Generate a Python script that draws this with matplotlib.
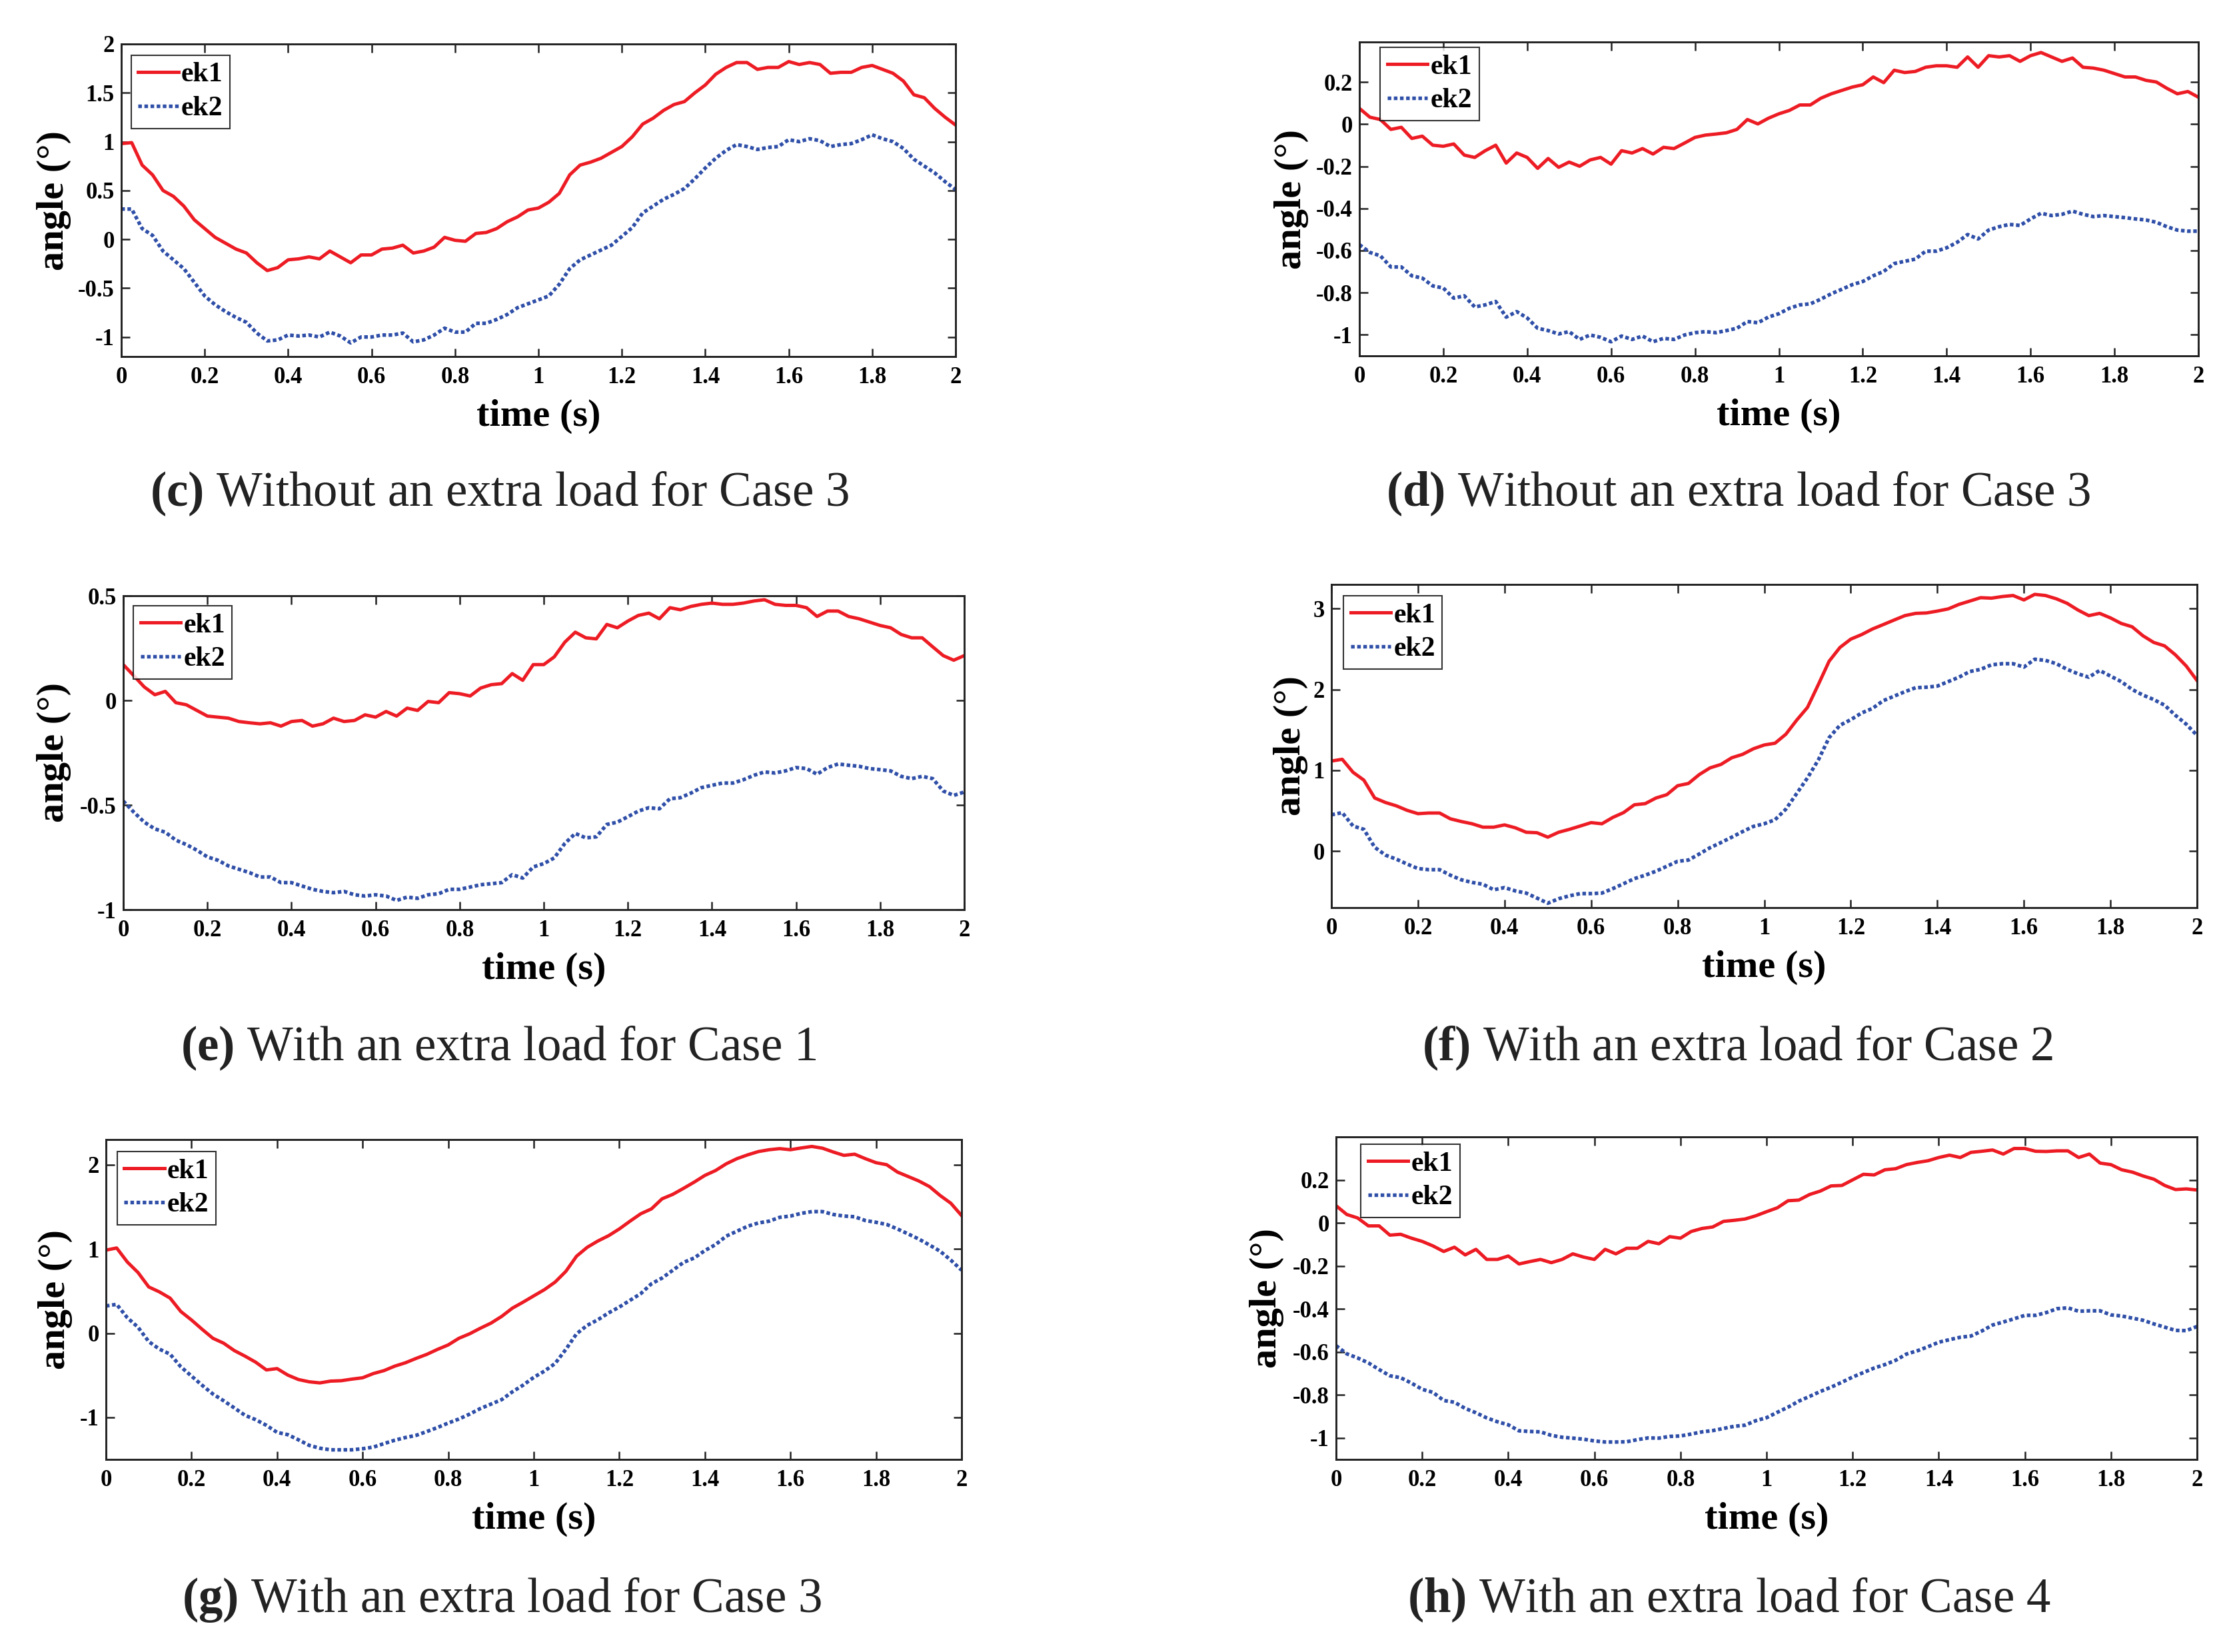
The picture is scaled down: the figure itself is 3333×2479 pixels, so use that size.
import numpy as np
import matplotlib
matplotlib.use('Agg')
import matplotlib.pyplot as plt

plt.rcParams['font.family'] = ['Liberation Serif', 'DejaVu Serif']
plt.rcParams['axes.unicode_minus'] = False
plt.rcParams['mathtext.fontset'] = 'custom'
plt.rcParams['mathtext.rm'] = 'Liberation Serif'
plt.rcParams['mathtext.bf'] = 'Liberation Serif:bold'

# ---------------- data ----------------
t = np.linspace(0, 2, 81)   # sample times, 0.025 s step

c_ek1 = [0.98, 0.99, 0.76, 0.66, 0.50, 0.44, 0.34, 0.20, 0.11, 0.02,
         -0.04, -0.10, -0.14, -0.24, -0.32, -0.29, -0.21, -0.20, -0.18, -0.20,
         -0.12, -0.18, -0.24, -0.16, -0.16, -0.10, -0.09, -0.06, -0.14, -0.12,
         -0.08, 0.02, -0.01, -0.02, 0.06, 0.07, 0.11, 0.18, 0.23, 0.30,
         0.32, 0.38, 0.47, 0.66, 0.76, 0.79, 0.83, 0.89, 0.95, 1.05,
         1.18, 1.24, 1.32, 1.38, 1.41, 1.50, 1.58, 1.69, 1.76, 1.81,
         1.81, 1.74, 1.76, 1.76, 1.82, 1.79, 1.81, 1.79, 1.70, 1.71,
         1.71, 1.76, 1.78, 1.74, 1.70, 1.62, 1.48, 1.45, 1.34, 1.25,
         1.17]
c_ek2 = [0.31, 0.31, 0.11, 0.04, -0.12, -0.21, -0.30, -0.44, -0.58, -0.67,
         -0.74, -0.80, -0.85, -0.96, -1.04, -1.03, -0.98, -0.99, -0.98, -1.00,
         -0.95, -0.99, -1.06, -1.00, -1.00, -0.98, -0.98, -0.96, -1.05, -1.03,
         -0.98, -0.91, -0.95, -0.95, -0.86, -0.86, -0.82, -0.77, -0.70, -0.66,
         -0.62, -0.58, -0.46, -0.30, -0.21, -0.16, -0.11, -0.06, 0.03, 0.12,
         0.27, 0.34, 0.41, 0.46, 0.52, 0.62, 0.73, 0.83, 0.91, 0.97,
         0.95, 0.92, 0.94, 0.95, 1.02, 1.00, 1.03, 1.01, 0.95, 0.97,
         0.98, 1.02, 1.07, 1.03, 1.00, 0.93, 0.82, 0.75, 0.68, 0.59,
         0.51]

d_ek1 = [0.075, 0.033, 0.022, -0.025, -0.015, -0.068, -0.057, -0.10, -0.105, -0.094,
         -0.147, -0.158, -0.126, -0.10, -0.185, -0.137, -0.158, -0.21, -0.163, -0.205,
         -0.18, -0.20, -0.17, -0.158, -0.19, -0.126, -0.137, -0.116, -0.142, -0.11,
         -0.116, -0.09, -0.063, -0.052, -0.047, -0.041, -0.025, 0.022, 0.001, 0.028,
         0.049, 0.065, 0.091, 0.091, 0.123, 0.144, 0.16, 0.176, 0.187, 0.224,
         0.197, 0.256, 0.245, 0.25, 0.27, 0.277, 0.277, 0.27, 0.319, 0.27,
         0.325, 0.319, 0.325, 0.298, 0.325, 0.34, 0.319, 0.298, 0.314, 0.27,
         0.266, 0.256, 0.24, 0.224, 0.224, 0.208, 0.20, 0.17, 0.144, 0.155,
         0.128]
d_ek2 = [-0.572, -0.609, -0.625, -0.678, -0.678, -0.72, -0.731, -0.768, -0.778, -0.826,
         -0.815, -0.868, -0.858, -0.842, -0.916, -0.89, -0.92, -0.969, -0.98, -0.996,
         -0.985, -1.022, -1.001, -1.012, -1.033, -1.006, -1.022, -1.006, -1.033, -1.017,
         -1.022, -1.001, -0.99, -0.985, -0.99, -0.98, -0.969, -0.937, -0.943, -0.916,
         -0.90, -0.874, -0.858, -0.853, -0.831, -0.805, -0.784, -0.762, -0.747, -0.72,
         -0.699, -0.662, -0.651, -0.641, -0.603, -0.603, -0.587, -0.561, -0.524, -0.545,
         -0.503, -0.487, -0.476, -0.481, -0.45, -0.423, -0.434, -0.428, -0.413, -0.428,
         -0.439, -0.434, -0.439, -0.444, -0.45, -0.455, -0.466, -0.487, -0.503, -0.508,
         -0.508]

e_ek1 = [0.171, 0.118, 0.064, 0.027, 0.043, -0.011, -0.021, -0.048, -0.075, -0.08,
         -0.085, -0.101, -0.107, -0.112, -0.107, -0.123, -0.101, -0.096, -0.123, -0.112,
         -0.085, -0.101, -0.096, -0.069, -0.08, -0.053, -0.075, -0.037, -0.048, -0.005,
         -0.011, 0.037, 0.032, 0.021, 0.059, 0.075, 0.08, 0.128, 0.096, 0.171,
         0.171, 0.208, 0.278, 0.326, 0.299, 0.294, 0.363, 0.347, 0.379, 0.406,
         0.417, 0.39, 0.443, 0.433, 0.449, 0.459, 0.465, 0.459, 0.459, 0.465,
         0.475, 0.481, 0.459, 0.454, 0.454, 0.443, 0.401, 0.427, 0.427, 0.401,
         0.39, 0.374, 0.358, 0.347, 0.315, 0.299, 0.299, 0.256, 0.214, 0.192,
         0.214]
e_ek2 = [-0.481, -0.534, -0.582, -0.614, -0.63, -0.668, -0.689, -0.716, -0.748, -0.764,
         -0.791, -0.807, -0.823, -0.844, -0.844, -0.871, -0.871, -0.887, -0.903, -0.913,
         -0.919, -0.913, -0.929, -0.935, -0.929, -0.935, -0.956, -0.94, -0.946, -0.929,
         -0.924, -0.903, -0.903, -0.892, -0.881, -0.876, -0.871, -0.833, -0.849, -0.796,
         -0.78, -0.753, -0.684, -0.636, -0.657, -0.652, -0.593, -0.582, -0.556, -0.529,
         -0.513, -0.518, -0.47, -0.465, -0.443, -0.417, -0.406, -0.395, -0.395, -0.379,
         -0.358, -0.342, -0.347, -0.337, -0.321, -0.326, -0.353, -0.321, -0.304, -0.31,
         -0.315, -0.326, -0.331, -0.337, -0.363, -0.374, -0.363, -0.374, -0.433, -0.454,
         -0.438]

f_ek1 = [1.114, 1.136, 0.975, 0.878, 0.657, 0.601, 0.56, 0.504, 0.463, 0.471,
         0.471, 0.399, 0.366, 0.338, 0.296, 0.296, 0.324, 0.288, 0.233, 0.227,
         0.172, 0.233, 0.269, 0.31, 0.352, 0.338, 0.416, 0.476, 0.573, 0.587,
         0.657, 0.698, 0.809, 0.837, 0.947, 1.03, 1.072, 1.155, 1.197, 1.266,
         1.313, 1.335, 1.446, 1.62, 1.778, 2.06, 2.35, 2.52, 2.623, 2.679,
         2.748, 2.803, 2.859, 2.914, 2.942, 2.947, 2.97, 2.997, 3.053, 3.094,
         3.136, 3.13, 3.15, 3.163, 3.108, 3.177, 3.163, 3.122, 3.066, 2.983,
         2.914, 2.942, 2.886, 2.817, 2.776, 2.665, 2.582, 2.54, 2.429, 2.291,
         2.111]
f_ek2 = [0.449, 0.476, 0.31, 0.269, 0.047, -0.05, -0.10, -0.161, -0.216, -0.23,
         -0.23, -0.299, -0.355, -0.388, -0.41, -0.479, -0.452, -0.493, -0.52, -0.582,
         -0.645, -0.59, -0.554, -0.526, -0.526, -0.52, -0.465, -0.404, -0.341, -0.299,
         -0.249, -0.188, -0.127, -0.111, -0.036, 0.042, 0.105, 0.172, 0.241, 0.305,
         0.338, 0.388, 0.518, 0.712, 0.906, 1.127, 1.404, 1.557, 1.626, 1.709,
         1.765, 1.861, 1.917, 1.972, 2.022, 2.028, 2.042, 2.097, 2.152, 2.222,
         2.249, 2.305, 2.319, 2.319, 2.277, 2.374, 2.36, 2.319, 2.249, 2.194,
         2.152, 2.235, 2.166, 2.097, 2.0, 1.931, 1.875, 1.806, 1.681, 1.571,
         1.432]

g_ek1 = [0.986, 1.012, 0.845, 0.72, 0.549, 0.49, 0.416, 0.257, 0.156, 0.045,
         -0.061, -0.119, -0.207, -0.273, -0.345, -0.437, -0.421, -0.498, -0.551, -0.578,
         -0.591, -0.57, -0.565, -0.546, -0.53, -0.48, -0.445, -0.392, -0.352, -0.30,
         -0.252, -0.193, -0.14, -0.061, -0.008, 0.058, 0.119, 0.199, 0.297, 0.368,
         0.443, 0.517, 0.607, 0.734, 0.914, 1.02, 1.095, 1.158, 1.238, 1.33,
         1.418, 1.476, 1.596, 1.649, 1.72, 1.794, 1.874, 1.932, 2.012, 2.073,
         2.118, 2.157, 2.179, 2.192, 2.179, 2.2, 2.218, 2.197, 2.152, 2.112,
         2.126, 2.073, 2.025, 2.001, 1.914, 1.861, 1.808, 1.741, 1.635, 1.543,
         1.397]
g_ek2 = [0.323, 0.342, 0.183, 0.07, -0.10, -0.19, -0.25, -0.40, -0.51, -0.62,
         -0.723, -0.803, -0.888, -0.976, -1.028, -1.095, -1.179, -1.206, -1.267, -1.333,
         -1.367, -1.386, -1.386, -1.386, -1.373, -1.354, -1.312, -1.272, -1.24, -1.214,
         -1.169, -1.121, -1.068, -1.02, -0.962, -0.896, -0.843, -0.79, -0.697, -0.618,
         -0.525, -0.451, -0.36, -0.193, -0.008, 0.093, 0.159, 0.241, 0.31, 0.39,
         0.469, 0.586, 0.655, 0.747, 0.84, 0.893, 0.981, 1.052, 1.153, 1.211,
         1.27, 1.309, 1.33, 1.376, 1.391, 1.423, 1.444, 1.444, 1.41, 1.391,
         1.383, 1.338, 1.317, 1.291, 1.238, 1.179, 1.118, 1.047, 0.973, 0.867,
         0.748]

h_ek1 = [0.08, 0.039, 0.023, -0.014, -0.014, -0.057, -0.053, -0.071, -0.086, -0.107,
         -0.133, -0.113, -0.149, -0.123, -0.17, -0.17, -0.154, -0.191, -0.18, -0.17,
         -0.185, -0.17, -0.144, -0.159, -0.17, -0.123, -0.144, -0.118, -0.118, -0.086,
         -0.097, -0.064, -0.071, -0.04, -0.026, -0.019, 0.007, 0.012, 0.018, 0.033,
         0.052, 0.07, 0.103, 0.106, 0.132, 0.148, 0.172, 0.174, 0.2, 0.226,
         0.223, 0.247, 0.252, 0.271, 0.281, 0.289, 0.304, 0.315, 0.304, 0.328,
         0.333, 0.339, 0.32, 0.346, 0.346, 0.333, 0.332, 0.335, 0.335, 0.304,
         0.32, 0.278, 0.271, 0.247, 0.236, 0.218, 0.203, 0.174, 0.155, 0.158,
         0.153]
h_ek2 = [-0.571, -0.609, -0.628, -0.651, -0.682, -0.711, -0.72, -0.745, -0.774, -0.788,
         -0.826, -0.834, -0.863, -0.883, -0.907, -0.925, -0.939, -0.967, -0.97, -0.972,
         -0.988, -0.997, -1.001, -1.006, -1.014, -1.019, -1.019, -1.018, -1.008, -1.0,
         -1.001, -0.993, -0.991, -0.982, -0.972, -0.966, -0.956, -0.946, -0.941, -0.92,
         -0.906, -0.881, -0.857, -0.829, -0.807, -0.784, -0.764, -0.741, -0.717, -0.696,
         -0.675, -0.659, -0.639, -0.61, -0.595, -0.576, -0.555, -0.543, -0.532, -0.526,
         -0.503, -0.475, -0.461, -0.446, -0.43, -0.43, -0.417, -0.399, -0.395, -0.411,
         -0.409, -0.409, -0.428, -0.433, -0.443, -0.453, -0.47, -0.485, -0.5, -0.501,
         -0.482]

xtick_vals = [0, 0.2, 0.4, 0.6, 0.8, 1.0, 1.2, 1.4, 1.6, 1.8, 2.0]
xtick_labels = ['0', '0.2', '0.4', '0.6', '0.8', '1', '1.2', '1.4', '1.6', '1.8', '2']

c_yticks = [-1, -0.5, 0, 0.5, 1, 1.5, 2]
c_ylabels = ['-1', '-0.5', '0', '0.5', '1', '1.5', '2']
d_yticks = [-1, -0.8, -0.6, -0.4, -0.2, 0, 0.2]
d_ylabels = ['-1', '-0.8', '-0.6', '-0.4', '-0.2', '0', '0.2']
e_yticks = [-1, -0.5, 0, 0.5]
e_ylabels = ['-1', '-0.5', '0', '0.5']
f_yticks = [0, 1, 2, 3]
f_ylabels = ['0', '1', '2', '3']
g_yticks = [-1, 0, 1, 2]
g_ylabels = ['-1', '0', '1', '2']
h_yticks = d_yticks
h_ylabels = d_ylabels

captions = [
    r'$\mathbf{(c)}$ Without an extra load for Case 3',
    r'$\mathbf{(d)}$ Without an extra load for Case 3',
    r'$\mathbf{(e)}$ With an extra load for Case 1',
    r'$\mathbf{(f)}$ With an extra load for Case 2',
    r'$\mathbf{(g)}$ With an extra load for Case 3',
    r'$\mathbf{(h)}$ With an extra load for Case 4',
]
series_names = ['ek1', 'ek2']

# ---------------- layout (pixel coords of reference) ----------------
W, H = 3333, 2479
panels = [
    dict(box=(182, 66, 1434, 535), e1=c_ek1, e2=c_ek2, ylim=(-1.2, 2.0),
         yt=c_yticks, yl=c_ylabels, ylx=-0.060, leg=(0.012, 0.964), cap=(750, 759)),
    dict(box=(2040, 63, 3299, 534), e1=d_ek1, e2=d_ek2, ylim=(-1.1, 0.39),
         yt=d_yticks, yl=d_ylabels, ylx=-0.060, leg=(0.025, 0.983), cap=(2609, 759)),
    dict(box=(185, 894, 1447, 1365), e1=e_ek1, e2=e_ek2, ylim=(-1.0, 0.5),
         yt=e_yticks, yl=e_ylabels, ylx=-0.062, leg=(0.012, 0.968), cap=(748, 1591)),
    dict(box=(1998, 877, 3297, 1362), e1=f_ek1, e2=f_ek2, ylim=(-0.7, 3.3),
         yt=f_yticks, yl=f_ylabels, ylx=-0.027, leg=(0.014, 0.965), cap=(2608, 1591)),
    dict(box=(159, 1710, 1443, 2190), e1=g_ek1, e2=g_ek2, ylim=(-1.5, 2.3),
         yt=g_yticks, yl=g_ylabels, ylx=-0.039, leg=(0.013, 0.9625), cap=(753, 2419)),
    dict(box=(2005, 1706, 3297, 2190), e1=h_ek1, e2=h_ek2, ylim=(-1.1, 0.4),
         yt=h_yticks, yl=h_ylabels, ylx=-0.060, leg=(0.029, 0.977), cap=(2595, 2419)),
]

RED = '#ED1C24'
BLUE = '#2F4FA8'

fig = plt.figure(figsize=(W / 300, H / 300), dpi=300)

for p, cap in zip(panels, captions):
    x0, y0, x1, y1 = p['box']
    ax = fig.add_axes([x0 / W, 1 - y1 / H, (x1 - x0) / W, (y1 - y0) / H])
    ax.plot(t, p['e1'], color=RED, lw=1.2, label=series_names[0])
    ax.plot(t, p['e2'], color=BLUE, lw=1.3, ls=(0, (1, 0.7)), label=series_names[1])
    ax.set_xlim(0, 2)
    ax.set_ylim(*p['ylim'])
    ax.set_xticks(xtick_vals)
    ax.set_xticklabels(xtick_labels)
    ax.set_yticks(p['yt'])
    ax.set_yticklabels(p['yl'])
    ax.tick_params(direction='in', length=3, width=0.6, top=True, right=True,
                   labelsize=8.3, colors='#222222')
    ax.tick_params(axis='x', pad=3.5)
    ax.tick_params(axis='y', pad=2.5)
    for lab in ax.get_xticklabels() + ax.get_yticklabels():
        lab.set_fontweight('bold')
        lab.set_color('black')
    for s in ax.spines.values():
        s.set_linewidth(0.7)
        s.set_color('#222222')
    ax.set_xlabel('time (s)', fontsize=14, fontweight='bold', labelpad=4)
    ax.set_ylabel('angle (°)', fontsize=14, fontweight='bold')
    ax.yaxis.set_label_coords(p['ylx'], 0.5)
    leg = ax.legend(loc='upper left', bbox_to_anchor=p['leg'], borderaxespad=0,
                    prop={'weight': 'bold', 'size': 10}, frameon=True, fancybox=False,
                    edgecolor='black', borderpad=0.25, labelspacing=0.3,
                    handlelength=1.45, handletextpad=0.1)
    leg.get_frame().set_linewidth(0.5)
    fig.text(p['cap'][0] / W, 1 - p['cap'][1] / H, cap, ha='center', va='baseline',
             fontsize=17.5, color='#222222')

fig.savefig('out.png', dpi=300)
